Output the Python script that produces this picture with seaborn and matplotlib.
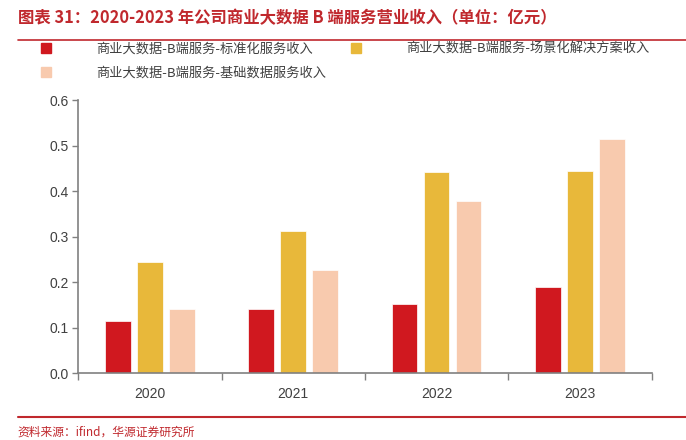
import pandas as pd
import matplotlib.pyplot as plt
import seaborn as sns
from matplotlib.lines import Line2D

# data
years = ["2020", "2021", "2022", "2023"]
series_names = ["商业大数据-B端服务-标准化服务收入",
                "商业大数据-B端服务-场景化解决方案收入",
                "商业大数据-B端服务-基础数据服务收入"]
standard = [0.114, 0.141, 0.151, 0.189]
scenario = [0.245, 0.312, 0.443, 0.445]
basic = [0.140, 0.226, 0.378, 0.515]
colors = ["#D0181F", "#E8B83A", "#F8CAAE"]

rows = []
for name, vals in zip(series_names, [standard, scenario, basic]):
    for y, v in zip(years, vals):
        rows.append({"year": y, "series": name, "value": v})
df = pd.DataFrame(rows)

sns.set_style("white")
plt.rcParams["font.family"] = ["Noto Sans CJK SC", "DejaVu Sans"]

fig = plt.figure(figsize=(6.86, 4.4), dpi=100)
ax = fig.add_axes([0.114, 0.152, 0.836, 0.62])

sns.barplot(data=df, x="year", y="value", hue="series", palette=colors,
            saturation=1, width=0.67, gap=0.2, dodge=True, ax=ax,
            legend=False, edgecolor="white", linewidth=0.5)

ax.set_ylim(0, 0.6)
ax.set_xlim(-0.5, 3.5)
ax.set_yticks([0, 0.1, 0.2, 0.3, 0.4, 0.5, 0.6])
ax.set_yticklabels([f"{t:.1f}" for t in ax.get_yticks()])
ax.set_xlabel("")
ax.set_ylabel("")

for s in ["top", "right"]:
    ax.spines[s].set_visible(False)
for s in ["left", "bottom"]:
    ax.spines[s].set_color("#808080")
    ax.spines[s].set_linewidth(1.2)

ax.tick_params(axis="y", length=4, width=1, color="#808080", labelsize=10,
               labelcolor="#404040", pad=3, left=True)
ax.tick_params(axis="x", which="major", length=0, labelsize=10,
               labelcolor="#404040", pad=10)
ax.set_xticks([-0.5, 0.5, 1.5, 2.5, 3.5], minor=True)
ax.tick_params(axis="x", which="minor", length=5, width=1, color="#808080",
               bottom=True)
for lab in ax.get_xticklabels() + ax.get_yticklabels():
    lab.set_family(["Liberation Sans", "DejaVu Sans"])

# legend: columns fill top-down, so order gives row 1 = standard, scenario
handles = [Line2D([0], [0], marker="s", linestyle="", markersize=7,
                  markerfacecolor=c, markeredgecolor=c) for c in colors]
order = [0, 2, 1]
fig.legend([handles[i] for i in order], [series_names[i] for i in order],
           loc="upper left", bbox_to_anchor=(0.04, 0.93), ncol=2,
           frameon=False, fontsize=9.5, handletextpad=3.3, columnspacing=1.8,
           labelspacing=0.85, handlelength=1.0, labelcolor="#404040")

# title, rules and source
red = "#C0282D"
fig.text(0.026, 0.958, "图表 31：2020-2023 年公司商业大数据 B 端服务营业收入（单位：亿元）",
         fontsize=11.8, fontweight="bold", color=red, va="center", ha="left")
fig.add_artist(Line2D([0.026, 1.0], [0.908, 0.908], color=red, linewidth=1.2))
fig.add_artist(Line2D([0.026, 1.0], [0.052, 0.052], color=red, linewidth=1.5))
fig.text(0.026, 0.018, "资料来源：ifind，华源证券研究所", fontsize=8.5,
         color=red, va="center", ha="left")

fig.savefig("out.png", dpi=100)
